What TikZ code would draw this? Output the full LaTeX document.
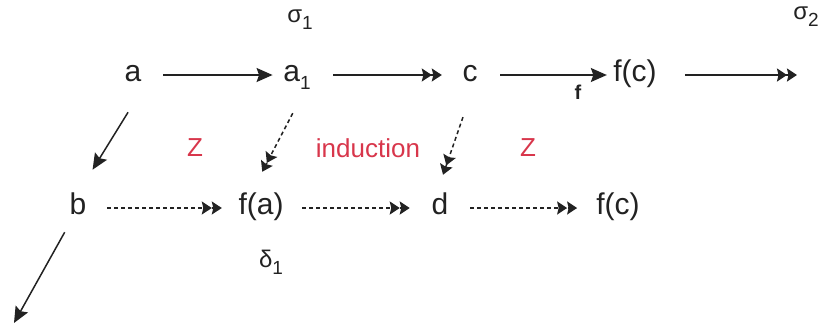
\documentclass[tikz,border=0pt]{standalone}
\usepackage{fontspec}
\setmainfont{Liberation Sans}
\usetikzlibrary{arrows.meta}
\definecolor{redlabel}{HTML}{D8364B}
\definecolor{ink}{HTML}{222222}
\newcommand{\lowidx}[1]{\raisebox{-0.28em}{\fontsize{19}{19}\selectfont #1}}

\begin{document}
\begin{tikzpicture}[x=1pt, y=-1pt,
    obj/.style={font=\fontsize{30}{30}\selectfont, text=ink, inner sep=0pt,
                text height=21pt, text depth=8pt},
    greek/.style={font=\fontsize{24}{24}\selectfont, text=ink, inner sep=0pt},
    note/.style={font=\fontsize{26}{26}\selectfont, text=redlabel, inner sep=0pt},
    arr/.style={line width=1.5pt, draw=ink,
                -{Stealth[length=16pt,width=14pt,inset=2.5pt]}},
    darr/.style={line width=1.5pt, draw=ink,
                 -{Stealth[length=10pt,width=13pt,inset=1.5pt]Stealth[length=10pt,width=13pt,inset=1.5pt]}},
    dsh/.style={dash pattern=on 4pt off 3pt}]
  \useasboundingbox (0,0) rectangle (825,333);

  % top row
  \node[obj] (a)   at (133,75) {a};
  \node[obj] (a1)  at (297,75) {a\lowidx{1}};
  \node[obj] (c)   at (470,75) {c};
  \node[obj] (fc1) at (635,75) {f(c)};
  \coordinate (tail) at (797,75);

  % bottom row
  \node[obj] (b)   at (78,208)  {b};
  \node[obj] (fa)  at (261,208) {f(a)};
  \node[obj] (d)   at (440,208) {d};
  \node[obj] (fc2) at (618,208) {f(c)};
  \coordinate (out) at (14,323);

  \node[greek] (sig1) at (300,20)  {σ\lowidx{1}};
  \node[greek] (sig2) at (806,17)  {σ\lowidx{2}};
  \node[greek] (del1) at (271,262) {δ\lowidx{1}};

  \node[note] (z1)  at (195,148) {Z};
  \node[note] (ind) at (368,148) {induction};
  \node[note] (z2)  at (528,148) {Z};
  \node[font=\fontsize{20}{20}\selectfont\bfseries, text=ink, inner sep=0pt]
    (flbl) at (578,92) {f};

  \draw[arr,  shorten <=21.7pt, shorten >=10.6pt] (a) -- (a1);
  \draw[darr, shorten <=22.6pt, shorten >=20.5pt] (a1) -- (c);
  \draw[arr,  shorten <=22.5pt, shorten >=6.3pt]  (c) -- (fc1);
  \draw[darr, shorten <=28pt] (fc1) -- (tail);

  \draw[darr, dsh, shorten <=20.7pt, shorten >=16.5pt] (b) -- (fa);
  \draw[darr, dsh, shorten <=18.5pt, shorten >=21.7pt] (fa) -- (d);
  \draw[darr, dsh, shorten <=21.7pt, shorten >=19pt]   (d) -- (fc2);

  % diagonals
  \draw[arr, shorten <=26.5pt, shorten >=27.7pt] ([xshift=9pt]a.south) -- (b.north);
  \draw[arr, shorten <=10.9pt] ([xshift=-8pt]b.south) -- (out);
  \draw[darr, dsh, shorten <=26.5pt, shorten >=24.3pt]
    ([xshift=8pt]a1.south) -- ([xshift=-10pt]fa.north);
  \draw[darr, dsh, shorten <=29pt, shorten >=19.6pt]
    ([xshift=2.5pt]c.south) -- ([xshift=-3.4pt]d.north);
\end{tikzpicture}
\end{document}
